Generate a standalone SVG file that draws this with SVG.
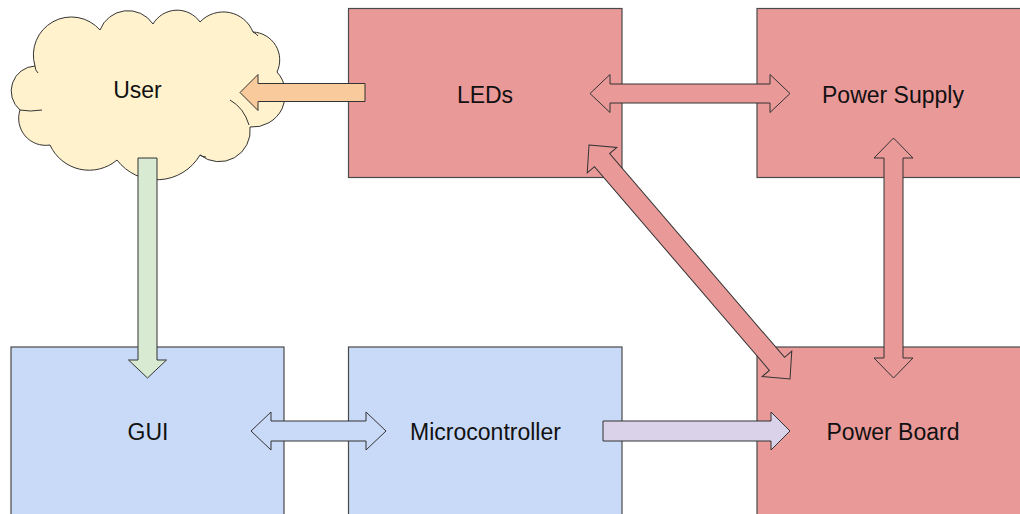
<svg xmlns="http://www.w3.org/2000/svg" width="1020" height="514" viewBox="0 0 1020 514">
<style>
.box{stroke:#4a4a4a;stroke-width:1.2}
.red{fill:#ea9999}
.blue{fill:#c9daf8}
.lbl{font-family:"Liberation Sans",Arial,sans-serif;font-size:23px;fill:#111;text-anchor:middle}
.arr{stroke:#333;stroke-width:1;stroke-linejoin:miter}
.cloudline{fill:none;stroke:#333;stroke-width:1}
</style>
<rect width="1020" height="514" fill="#ffffff"/>
<g id="user">
<path d="M35,66 A38,38 0 0 1 100,30 A30,30 0 0 1 153,24 A28,28 0 0 1 200,22 A32,32 0 0 1 253,32 A28,28 0 0 1 277,72 A33,33 0 0 1 250,127 A31,31 0 0 1 200,155 A50,50 0 0 1 117,160 A43,43 0 0 1 50,145 A27,27 0 0 1 20,110 A25,25 0 0 1 35,66 Z" fill="#fff2cc" stroke="#333" stroke-width="1"/>
<path class="cloudline" d="M35,66 Q35,70 38,73 M20,110 Q30,112 42,110 M230,100 Q244,108 249,125 M253,32 Q257,34 258,36 M200,155 Q203,157 206,157"/>
<text class="lbl" x="137.5" y="97.5">User</text>
</g>
<g id="leds">
<rect class="box red" x="348.5" y="8.5" width="273.5" height="169"/>
<text class="lbl" x="485" y="102.5">LEDs</text>
</g>
<g id="power-supply">
<rect class="box red" x="757" y="8.5" width="270" height="169"/>
<text class="lbl" x="893" y="102.5">Power Supply</text>
</g>
<g id="gui">
<rect class="box blue" x="11" y="347" width="273" height="175"/>
<text class="lbl" x="148" y="440">GUI</text>
</g>
<g id="microcontroller">
<rect class="box blue" x="348.5" y="347" width="273.5" height="175"/>
<text class="lbl" x="485.5" y="440">Microcontroller</text>
</g>
<g id="power-board">
<rect class="box red" x="757" y="347" width="270" height="175"/>
<text class="lbl" x="893" y="440">Power Board</text>
</g>
<g id="connectors">
<polygon class="arr" fill="#f9cb9c" points="240,92.5 258,74.5 258,83.5 365,83.5 365,101.5 258,101.5 258,110.5"/>
<polygon class="arr" fill="#d9ead3" points="147.5,378 128.5,360 138,360 138,158 157,158 157,360 166.5,360"/>
<polygon class="arr" fill="#ea9999" points="590,93.5 610,74.5 610,84 770,84 770,74.5 790,93.5 770,112.5 770,103 610,103 610,112.5"/>
<polygon class="arr" fill="#ea9999" points="893.5,138 913,158 903,158 903,358 913,358 893.5,378 874,358 884,358 884,158 874,158"/>
<polygon class="arr" fill="#ea9999" transform="translate(589,145) rotate(49.34)" points="0,0 20,-19.5 20,-10 288.5,-10 288.5,-19.5 308.5,0 288.5,19.5 288.5,10 20,10 20,19.5"/>
<polygon class="arr" fill="#c9daf8" points="251,431 271,412 271,421 366,421 366,412 386,431 366,450 366,441 271,441 271,450"/>
<polygon class="arr" fill="#d9d2e9" points="603,421 771,421 771,412 790,431 771,450 771,441 603,441"/>
</g>
</svg>
